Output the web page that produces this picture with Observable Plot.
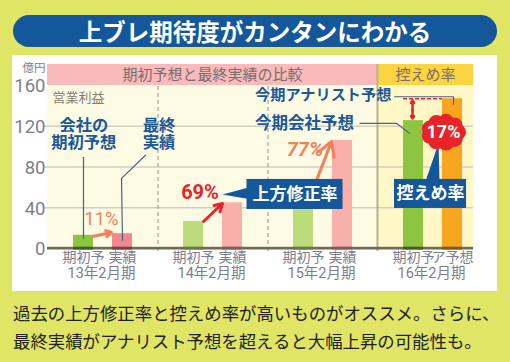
<!DOCTYPE html>
<html><head><meta charset="utf-8">
<script src="https://cdn.jsdelivr.net/npm/d3@7"></script>
<script src="https://cdn.jsdelivr.net/npm/@observablehq/plot@0.6"></script>
<style>
html,body{margin:0;padding:0}
body{width:510px;height:362px;background:#e0e566;position:relative;overflow:hidden;font-family:"Noto Sans CJK JP",sans-serif}
#title{position:absolute;left:13px;top:15px;width:484px;height:32px;border-radius:16px;background:#14579a;color:#fff;font-weight:700;font-size:23.5px;line-height:32px;text-align:center}
#chart{position:absolute;left:12px;top:55px;width:485px;height:236px;background:#fff}
#caption{position:absolute;left:13px;top:299px;font-size:17.4px;line-height:28px;color:#231f20;white-space:nowrap}
</style></head>
<body>
<div id="title">上ブレ期待度がカンタンにわかる</div>
<div id="chart"></div>
<div id="caption">過去の上方修正率と控えめ率が高いものがオススメ。さらに、<br>最終実績がアナリスト予想を超えると大幅上昇の可能性も。</div>
<script>
// ---- data ----
const periods = ["13年2月期", "14年2月期", "15年2月期", "16年2月期"];
const firstLabels = ["期初予", "期初予", "期初予", "期初予"];
const secondLabels = ["実績", "実績", "実績", "ア予想"];
const initialForecast = [13, 26.5, 60, 125.5];   // 会社の期初予想 (16年: 今期会社予想)
const secondValues = [14.5, 44.8, 106, 147];      // 最終実績 (16年: 今期アナリスト予想)
const rateLabels = ["11%", "69%", "77%"];         // 上方修正率
const conservativeLabel = "17%";                  // 控えめ率
const yTicks = [0, 40, 80, 120, 160];
const headerLabels = ["期初予想と最終実績の比較", "控えめ率"];

// ---- styles ----
const firstFill = ["#8cc63e", "#bcdc7c", "#bcdc7c", "#8cc540"];
const secondFill = ["#f4868f", "#f9b0aa", "#f9b0aa", "#f8a51f"];
const firstBase = ["#445f22", "#667a3c", "#667a3c", "#445f22"];
const secondBase = ["#7d4045", "#8a5e58", "#8a5e58", "#86581a"];
const BLUE = "#14579a", LABEL = "#1b5899", LEAD = "#45638f", RED = "#e6242a", SALMON = "#f47f5c";
const GRAY = "#7c7e8e";

// layout helpers (px -> data units)
const UX = 110, UY = 163 / 160;
const X0 = -0.5045, X1 = 3.368, DIV = 2.495, HEAD = 160 + 21 / UY;
const OFF = 19.5 / UX, HW = 10 / UX;
const px = v => v / UX, py = v => v / UY;

const bars = periods.flatMap((p, i) => [
  {g: i, xc: i - OFF, v: initialForecast[i], fill: firstFill[i], base: firstBase[i], label: firstLabels[i]},
  {g: i, xc: i + OFF, v: secondValues[i], fill: secondFill[i], base: secondBase[i], label: secondLabels[i]}
]);

const burstC = {x: 3 + px(10.5), y: initialForecast[3] - py(11.5)};
const bumps = d3.range(9).map(k => {
  const a = k * 2 * Math.PI / 9;
  return {x: burstC.x + px(14.5 * Math.cos(a)), y: burstC.y + py(10.5 * Math.sin(a))};
});

const cjk = "'Noto Sans CJK JP', sans-serif";
const rob = "Roboto, 'Noto Sans CJK JP', sans-serif";

const plot = Plot.plot({
  width: 485, height: 236,
  marginLeft: 35, marginRight: 24, marginTop: 30, marginBottom: 43,
  x: {domain: [X0, X1], axis: null},
  y: {domain: [0, 160], axis: null},
  color: {type: "identity"},
  style: {fontFamily: cjk, background: "#fff", overflow: "visible"},
  marks: [
    // panels
    Plot.rect([{a: X0, b: DIV, f: "#fdfbe3"}, {a: DIV, b: X1, f: "#fff7c6"}], {x1: "a", x2: "b", y1: 0, y2: 160, fill: "f"}),
    Plot.rect([{a: X0, b: DIV, f: "#f8baba"}, {a: DIV, b: X1, f: "#fcd440"}], {x1: "a", x2: "b", y1: 160, y2: HEAD, fill: "f"}),
    Plot.ruleY(yTicks.filter(t => t > 0 && t < 160), {x1: X0 - px(3), x2: X1, stroke: "#d3cfbd", strokeWidth: 1.3}),
    Plot.ruleX(d3.range(0.5, 2, 1), {y1: -py(3), y2: 160, stroke: "#a9a48f", strokeDasharray: "4,3", strokeWidth: 1.2}),
    Plot.ruleX([DIV], {y1: -py(3), y2: HEAD, stroke: "#b8b28a", strokeWidth: 2}),
    // bars
    Plot.rect(bars, {x1: d => d.xc - HW, x2: d => d.xc + HW, y1: 0, y2: "v", fill: "fill"}),
    Plot.rect([0], {x1: X0, x2: X1, y1: -py(1.5), y2: py(1.2), fill: "#6e6a5a"}),
    Plot.rect(bars, {x1: d => d.xc - HW, x2: d => d.xc + HW, y1: -py(1.5), y2: py(1.2), fill: "base"}),
    // y tick labels
    Plot.text(yTicks, {x: X0, y: d => d, text: d => String(d), dx: -2, dy: 1, textAnchor: "end", fontSize: 18.5, fontFamily: rob, fill: GRAY, ariaLabel: "cond-80"}),
    Plot.text(["億円"], {x: X0, y: 160 + py(17), text: d => d, dx: -2, textAnchor: "end", fontSize: 11.5, fill: GRAY}),
    // header labels
    Plot.text([{x: (X0 + DIV) / 2, t: headerLabels[0]}, {x: (DIV + X1) / 2, t: headerLabels[1]}], {x: "x", y: 160 + py(10.5), text: "t", fontSize: 15, fill: "#7b6d6b"}),
    Plot.text(["営業利益"], {x: X0, y: 160 - py(12), text: d => d, dx: 5, textAnchor: "start", fontSize: 13, fill: "#8a7e74", ariaLabel: "cond-82"}),
    // x labels
    Plot.text(bars, {x: "xc", y: 0, text: "label", dy: 9.5, fontSize: 14, fill: GRAY, ariaLabel: "cond-82"}),
    Plot.text(periods, {x: (d, i) => i - px(1.5), y: 0, text: d => d, dy: 25, fontSize: 14.5, fontFamily: rob, fill: GRAY, ariaLabel: "cond-88"}),
    // leader lines
    Plot.line([{x: -OFF, y: initialForecast[0] - 3}, {x: -OFF, y: 89.5}], {x: "x", y: "y", stroke: LEAD, strokeWidth: 1.2}),
    Plot.line([{x: OFF, y: 8}, {x: OFF - px(1), y: 68.8}, {x: OFF + px(23), y: 91.5}], {x: "x", y: "y", stroke: LEAD, strokeWidth: 1.2}),
    Plot.line([{x: 2.65, y: secondValues[3] + py(2)}, {x: 3 + OFF + px(1), y: secondValues[3] + py(2)}, {x: 3 + OFF + px(1), y: secondValues[3] - py(5.5)}], {x: "x", y: "y", stroke: LEAD, strokeWidth: 1.2}),
    Plot.line([{x: 2.336, y: 122.9}, {x: 2.668, y: 122.9}, {x: 3 - OFF - px(4), y: 113}], {x: "x", y: "y", stroke: LEAD, strokeWidth: 1.2}),
    // leader texts (two-line labels)
    Plot.text([
      {x: -OFF + px(0.3), t: "会社の\n期初予想"},
      {x: 0.509, t: "最終\n実績"}
    ], {x: "x", y: 112, text: "t", fontSize: 16.3, lineHeight: 1.05, fontWeight: 700, fill: LABEL}),
    Plot.text(["今期アナリスト予想"], {x: 1.382, y: 150.4, text: d => d, textAnchor: "start", fontSize: 15.2, fontWeight: 700, fill: LABEL}),
    Plot.text(["今期会社予想"], {x: 1.382, y: 122.9, text: d => d, textAnchor: "start", fontSize: 16.5, fontWeight: 700, fill: LABEL}),
    // revision arrows
    Plot.arrow([{x1: -OFF + HW, y1: initialForecast[0] - 1, x2: OFF - HW - px(1), y2: secondValues[0] + 1.2}], {x1: "x1", y1: "y1", x2: "x2", y2: "y2", stroke: SALMON, strokeWidth: 3, headLength: 8}),
    Plot.arrow([{x1: 1 - OFF + HW, y1: initialForecast[1], x2: 1 + OFF - HW, y2: secondValues[1] - 0.6}], {x1: "x1", y1: "y1", x2: "x2", y2: "y2", stroke: RED, strokeWidth: 3, headLength: 8}),
    Plot.arrow([{x1: 2 - OFF + HW, y1: initialForecast[2] - 1, x2: 2 + OFF - HW - px(1), y2: secondValues[2] - 1}], {x1: "x1", y1: "y1", x2: "x2", y2: "y2", stroke: SALMON, strokeWidth: 3, headLength: 8}),
    Plot.text([{x: -px(1.5), y: 29, t: rateLabels[0]}], {x: "x", y: "y", text: "t", fontSize: 18.5, fontFamily: rob, fill: SALMON, ariaLabel: "cond-90"}),
    Plot.text([{x: 1 - px(13), y: 54.5, t: rateLabels[1]}], {x: "x", y: "y", text: "t", fontSize: 20, fontWeight: 700, fontFamily: rob, fill: RED, ariaLabel: "cond-88"}),
    Plot.text([{x: 2 - px(18), y: 97.3, t: rateLabels[2]}], {x: "x", y: "y", text: "t", fontSize: 20, fontWeight: 700, fontStyle: "italic", fontFamily: rob, fill: SALMON, ariaLabel: "cond-88"}),
    // callout: 上方修正率
    Plot.line([{x: 1.35, y: 60.5}, {x: 1 + OFF - HW, y: 53.1}, {x: 1.35, y: 48.2}], {x: "x", y: "y", fill: BLUE, stroke: "none"}),
    Plot.rect([0], {x1: 1.309, x2: 2.182, y1: 38.3, y2: 67.8, fill: BLUE}),
    Plot.text(["上方修正率"], {x: 1.745, y: 53, text: d => d, fontSize: 17, fontWeight: 700, fill: "#fff"}),
    // conservative rate
    Plot.ruleY([secondValues[3]], {x1: 3 - OFF - HW, x2: 3 + OFF - HW, stroke: RED, strokeWidth: 1.5, strokeDasharray: "4,2"}),
    Plot.arrow([{x1: 2.814, y1: (secondValues[3] + initialForecast[3]) / 2, x2: 2.814, y2: secondValues[3] - 1.5},
                {x1: 2.814, y1: (secondValues[3] + initialForecast[3]) / 2, x2: 2.814, y2: initialForecast[3] + 2}],
      {x1: "x1", y1: "y1", x2: "x2", y2: "y2", stroke: RED, strokeWidth: 2.5, headLength: 7}),
    Plot.line([{x: 2.932, y: 66}, {x: 3.05, y: 103.2}, {x: 3.059, y: 66}], {x: "x", y: "y", fill: BLUE, stroke: "none"}),
    Plot.rect([0], {x1: 2.65, x2: 3.305, y1: 39.3, y2: 67.8, fill: BLUE}),
    Plot.text([headerLabels[1]], {x: 2.977, y: 53.5, text: d => d, fontSize: 17, fontWeight: 700, fill: "#fff"}),
    Plot.dot(bumps, {x: "x", y: "y", r: 8, fill: RED}),
    Plot.dot([burstC], {x: "x", y: "y", r: 15, fill: RED}),
    Plot.text([conservativeLabel], {x: burstC.x, y: burstC.y, text: d => d, fontSize: 18, fontWeight: 700, fontFamily: rob, fill: "#fff", ariaLabel: "cond-92"})
  ]
});

// horizontally condense some labels (the original uses a narrow typeface)
d3.select(plot).selectAll("g[aria-label^='cond-']").each(function () {
  const s = +this.getAttribute("aria-label").slice(5) / 100;
  d3.select(this).selectAll("text").each(function () {
    const t = this.getAttribute("transform") || "";
    this.setAttribute("transform", t + ` scale(${s},1)`);
  });
});
document.getElementById("chart").appendChild(plot);
</script>
</body></html>
